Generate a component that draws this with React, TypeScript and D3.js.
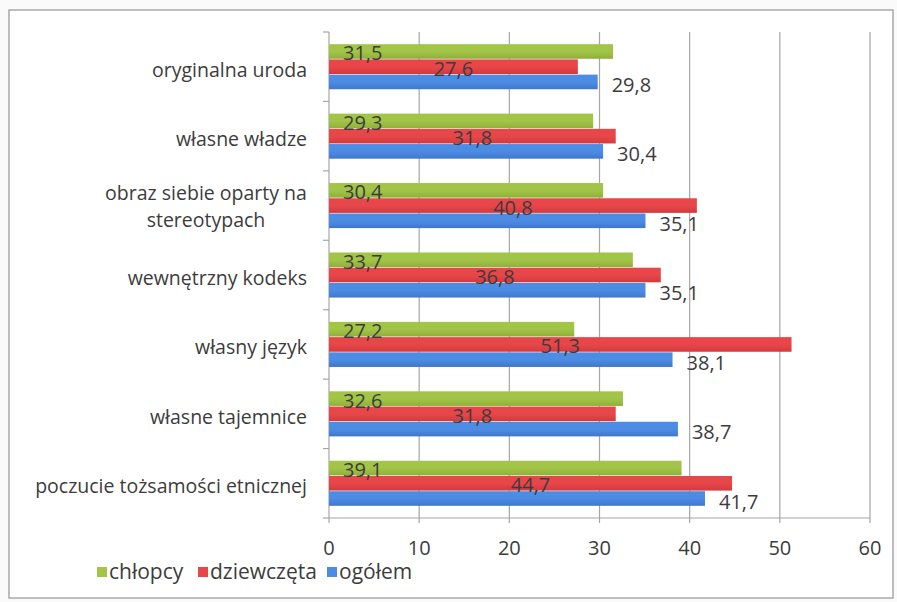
import React from 'react';
import * as d3 from 'd3';

const categories = [
  ['oryginalna uroda'],
  ['własne władze'],
  ['obraz siebie oparty na', 'stereotypach'],
  ['wewnętrzny kodeks'],
  ['własny język'],
  ['własne tajemnice'],
  ['poczucie tożsamości etnicznej'],
];
const seriesNames = ['chłopcy', 'dziewczęta', 'ogółem'];
const chlopcy = [31.5, 29.3, 30.4, 33.7, 27.2, 32.6, 39.1];
const dziewczeta = [27.6, 31.8, 40.8, 36.8, 51.3, 31.8, 44.7];
const ogolem = [29.8, 30.4, 35.1, 35.1, 38.1, 38.7, 41.7];
const xTicks = [0, 10, 20, 30, 40, 50, 60];

const colors = ['#a2c548', '#e8474a', '#4d8ce4'];
const darker = ['#8fb03a', '#d23a3d', '#3f78cc'];

const W = 897;
const H = 602;
const FONT = '"Open Sans", sans-serif';
const TXT = '#3c3c3c';

const App: React.FC = () => {
  const x = d3.scaleLinear().domain([0, 60]).range([329, 870]);
  const y = d3.scaleBand<number>().domain(d3.range(categories.length)).range([32, 518]);
  const inner = d3.scaleBand<number>()
    .domain([0, 1, 2])
    .range([0, y.bandwidth()])
    .paddingOuter(0.8)
    .paddingInner(0.04);
  const values = [chlopcy, dziewczeta, ogolem];
  const fmt = (v: number) => d3.format('.1f')(v).replace('.', ',');

  return (
    <svg width={W} height={H} style={{ position: 'absolute', left: 0, top: 0, background: '#fafafa' }}>
      <defs>
        {colors.map((c, i) => (
          <linearGradient key={i} id={`g${i}`} x1="0" y1="0" x2="0" y2="1">
            <stop offset="0" stopColor={c} />
            <stop offset="0.5" stopColor={c} />
            <stop offset="1" stopColor={darker[i]} />
          </linearGradient>
        ))}
      </defs>
      <rect x={9} y={10} width={884} height={588} fill="#ffffff" stroke="#a8a8a8" strokeWidth={1.5} />

      {/* gridlines */}
      {xTicks.slice(1).map(t => (
        <line key={t} x1={x(t)} x2={x(t)} y1={32} y2={523} stroke="#a6a6a6" strokeWidth={1.2} />
      ))}
      <line x1={x(0)} x2={x(0)} y1={32} y2={523} stroke="#a6a6a6" strokeWidth={1.2} />
      <line x1={x(0)} x2={x(60)} y1={518} y2={518} stroke="#a6a6a6" strokeWidth={1.2} />
      {d3.range(categories.length + 1).map(i => {
        const yy = i < categories.length ? (y(i) as number) : 518;
        return <line key={i} x1={x(0) - 6} x2={x(0)} y1={yy} y2={yy} stroke="#a6a6a6" strokeWidth={1.2} />;
      })}

      {/* bars */}
      {categories.map((_, ci) => (
        <g key={ci} transform={`translate(0,${y(ci)})`}>
          {values.map((vals, si) => (
            <rect
              key={si}
              x={x(0)}
              y={inner(si)}
              width={x(vals[ci]) - x(0)}
              height={inner.bandwidth()}
              fill={`url(#g${si})`}
            />
          ))}
          {/* labels */}
          <text x={x(0) + 14} y={(inner(0) as number) + inner.bandwidth() / 2 + 2} dy="0.35em"
            fontFamily={FONT} fontSize={20} fill={TXT}>{fmt(chlopcy[ci])}</text>
          <text x={(x(0) + x(dziewczeta[ci])) / 2} y={(inner(1) as number) + inner.bandwidth() / 2 + 2} dy="0.35em"
            textAnchor="middle" fontFamily={FONT} fontSize={20} fill={TXT}>{fmt(dziewczeta[ci])}</text>
          <text x={x(ogolem[ci]) + 14} y={(inner(2) as number) + inner.bandwidth() / 2 + 3} dy="0.35em"
            fontFamily={FONT} fontSize={20} fill={TXT}>{fmt(ogolem[ci])}</text>
        </g>
      ))}

      {/* category labels */}
      {categories.map((lines, ci) => {
        const cy = (y(ci) as number) + y.bandwidth() / 2 + 3;
        if (lines.length === 1) {
          return (
            <text key={ci} x={307} y={cy} dy="0.35em" textAnchor="end" fontFamily={FONT} fontSize={19.5} fill={TXT}>
              {lines[0]}
            </text>
          );
        }
        return (
          <text key={ci} x={206} y={cy} textAnchor="middle" fontFamily={FONT} fontSize={19.5} fill={TXT}>
            {lines.map((l, li) => (
              <tspan key={li} x={206} y={cy - 2 + (li - 0.5) * 27} dy="0.35em">{l}</tspan>
            ))}
          </text>
        );
      })}

      {/* x tick labels */}
      {xTicks.map(t => (
        <text key={t} x={x(t)} y={548} dy="0.35em" textAnchor="middle" fontFamily={FONT} fontSize={20} fill={TXT}>{t}</text>
      ))}

      {/* legend */}
      {seriesNames.map((n, i) => {
        const lx = [97, 198, 327][i];
        return (
          <g key={n} transform={`translate(${lx},572)`}>
            <rect x={0} y={-5} width={10} height={10} fill={colors[i]} />
            <text x={12} y={0} dy="0.35em" fontFamily={FONT} fontSize={21} fill={TXT}>{n}</text>
          </g>
        );
      })}
    </svg>
  );
};

export default App;
